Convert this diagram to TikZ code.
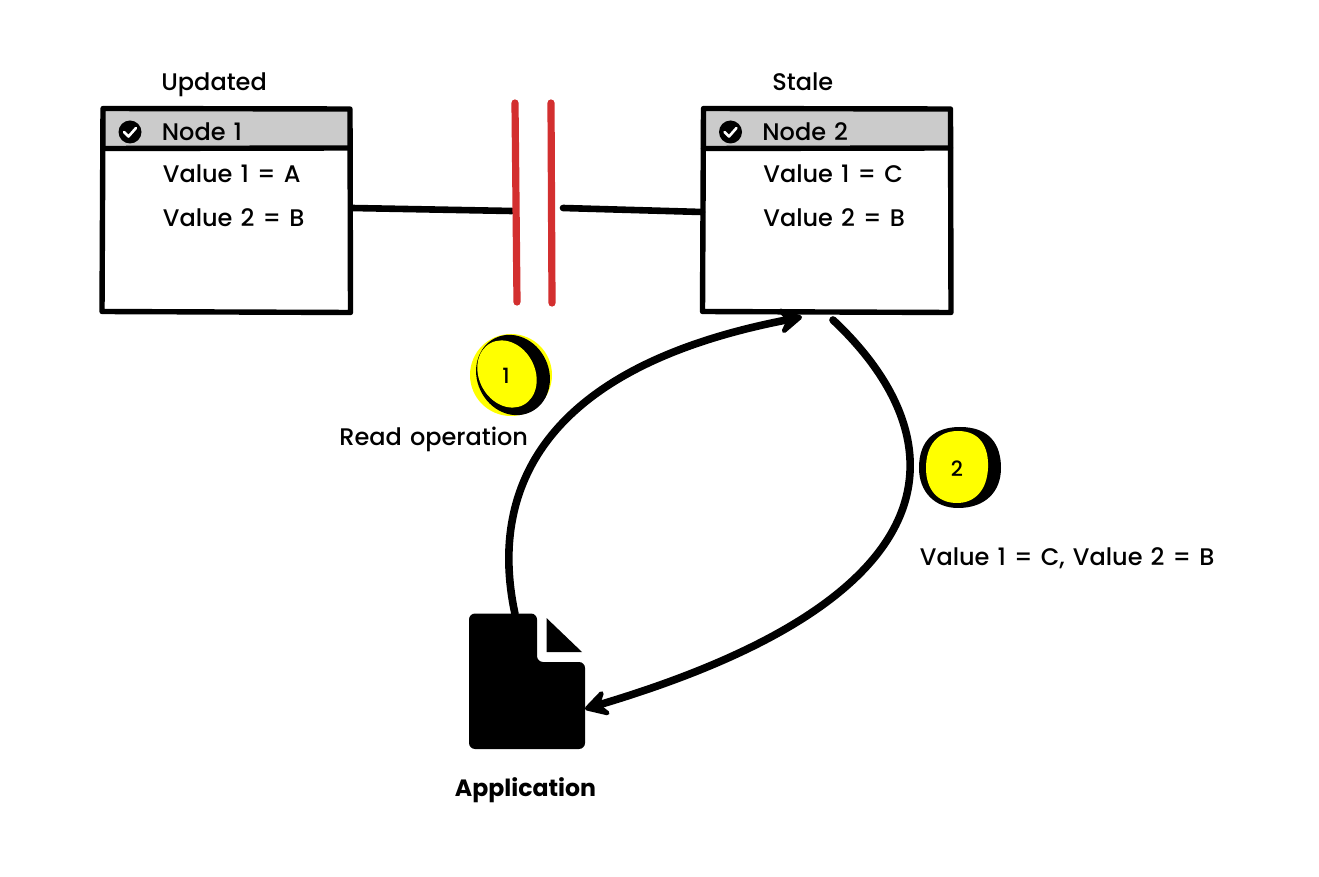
\documentclass[tikz,border=0pt]{standalone}
\usepackage{fontspec}
\setmainfont{Poppins}[UprightFont=*-Medium,BoldFont=*-Bold,WordSpace=1.3]
\usetikzlibrary{arrows.meta}
\definecolor{headgrey}{HTML}{CBCBCB}
\definecolor{partred}{HTML}{D32F2F}
\definecolor{badge}{HTML}{FFFF00}
\tikzset{
  x=0.5pt,y=-0.5pt,
  label/.style={anchor=base west,inner sep=0pt,font=\fontsize{12}{14}\selectfont},
  boldlabel/.style={label,font=\fontsize{11.8}{14}\selectfont\bfseries},
  boxnode/.style={inner sep=0pt,minimum width=124pt,minimum height=102pt,fill=white},
  outline/.style={line width=2.7pt,line join=round,line cap=round},
  link/.style={line width=3.3pt,line cap=round},
  partition/.style={line width=3.6pt,line cap=round,partred},
  flow/.style={line width=3.8pt,line cap=round,-{Stealth[length=15pt,width=17pt,inset=6pt,round]}},
  num/.style={inner sep=0pt,font=\fontsize{10.5}{12}\selectfont}
}
\newcommand{\tablebox}[7]{%
  % #1 name, #2 x offset, #3 title, #4 node name, #5 value1, #6 value2, #7 title x
  \node[boxnode] (#1) at (#2+226.5,210) {};
  \fill[headgrey] (#2+104,110) rectangle (#2+349,148);
  \draw[outline] (#2+103,108.5) -- (#2+350,109) -- (#2+350.5,312.5) -- (#2+102,311.5) -- cycle;
  \draw[outline] (#2+103,148.5) -- (#2+350,148);
  \node[label] (#1title) at (#7-1,91) {#3};
  \fill (#2+130,132) circle[radius=11.5];
  \draw[white,line width=1.3pt,line cap=round,line join=round] (#2+124,132) -- (#2+128.5,136.5) -- (#2+136,128);
  \node[label] (#1name) at (#2+161.5,141) {#4};
  \node[label] (#1v1) at (#2+162.5,183) {#5};
  \node[label] (#1v2) at (#2+162.5,227) {#6};
}
\begin{document}
\begin{tikzpicture}
\useasboundingbox (0,0) rectangle (1319,877);
\fill[white] (0,0) rectangle (1319,877);
\tablebox{nodea}{0}{Updated}{Node 1}{Value 1 = A}{Value 2 = B}{162}
\tablebox{nodeb}{600.5}{Stale}{Node 2}{Value 1 = C}{Value 2 = B}{773}

% partition
\coordinate (p1t) at (515,103); \coordinate (p1b) at (517,302);
\coordinate (p2t) at (551,103); \coordinate (p2b) at (552,303);
\coordinate (la) at (352,208); \coordinate (lae) at (512,211);
\coordinate (lb) at (563,208); \coordinate (lbe) at (702,212);
\draw[link] (la) -- (lae);
\draw[link] (lb) -- (lbe);
\draw[partition] (p1t) -- (p1b);
\draw[partition] (p2t) -- (p2b);

% application icon
\fill[rounded corners=3pt] (469,613.5) -- (537,613.5) -- (537,662) -- (585,662) -- (585,749) -- (469,749) -- cycle;
\fill (546.5,618) -- (582,652) -- (546.5,652) -- cycle;
\node[boldlabel] (app) at (454.5,796) {Application};
\coordinate (a1) at (515,614);
\coordinate (a2) at (585,709);
\coordinate (b1) at (802,317);
\coordinate (b2) at (833,320);

% flows
\draw[flow] (a1) .. controls (497,530) and (500,375) .. (b1);
\draw[flow] (b2) .. controls (945,425) and (985,590) .. (a2);

% badge 1
\fill[badge] (511,375) circle[radius=41];
\fill[rotate around={25:(513,375)}] (513,375) ellipse[x radius=36,y radius=41];
\fill[badge,rotate around={28:(507,374)}] (507,374) ellipse[x radius=28,y radius=35];
\draw[line width=1.1pt,line cap=round] (531,348) -- (539,352);
\node[num] (n1) at (506,376) {1};

% badge 2
\fill (919,468) .. controls (919,440) and (935,427) .. (960,427) .. controls (990,427) and (1001,445) .. (1001,468) .. controls (1001,492) and (985,508) .. (958,508) .. controls (935,508) and (919,492) .. (919,468) -- cycle;
\fill[badge] (926,468) .. controls (926,445) and (938,431) .. (958,431) .. controls (980,431) and (989,447) .. (988,468) .. controls (987,490) and (975,503) .. (957,503) .. controls (938,503) and (926,490) .. (926,468) -- cycle;
\node[num] (n2) at (957,469) {2};

% labels
\node[label] (readop) at (339,446) {Read operation};
\node[label] (result) at (919.5,566) {Value 1 = C, Value 2 = B};
\end{tikzpicture}
\end{document}
